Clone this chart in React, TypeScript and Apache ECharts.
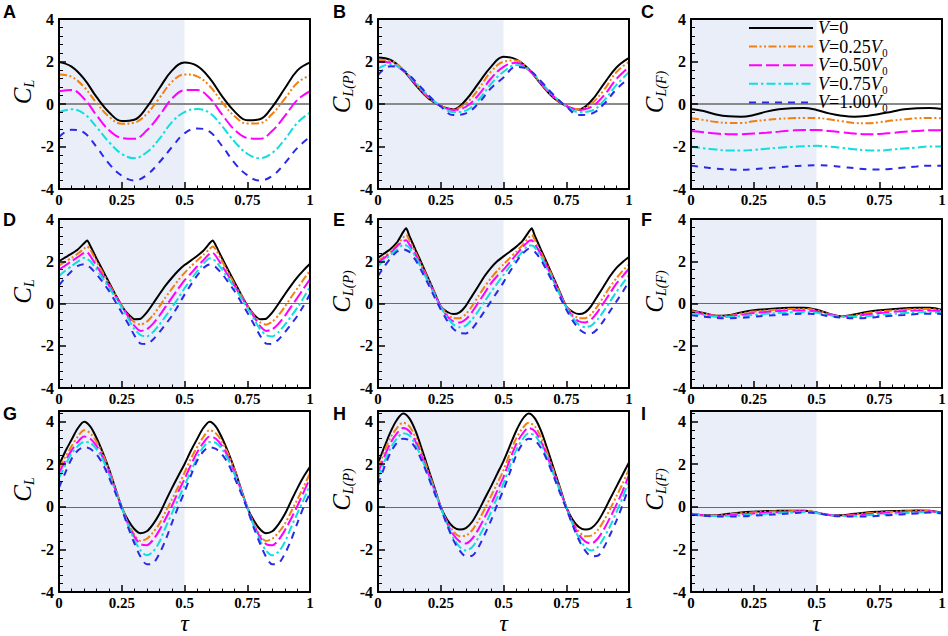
import React, { useEffect, useRef } from 'react';
import * as echarts from 'echarts';

// ---------- x grids (tau) ----------
const TAU_05 = [0, 0.05, 0.1, 0.15, 0.2, 0.25, 0.3, 0.35, 0.4, 0.45, 0.5, 0.55, 0.6, 0.65, 0.7, 0.75, 0.8, 0.85, 0.9, 0.95, 1];
const TAU_025 = [0, 0.025, 0.05, 0.075, 0.1, 0.125, 0.15, 0.175, 0.2, 0.225, 0.25, 0.275, 0.3, 0.325, 0.35, 0.375, 0.4, 0.425, 0.45, 0.475, 0.5,
  0.525, 0.55, 0.575, 0.6, 0.625, 0.65, 0.675, 0.7, 0.725, 0.75, 0.775, 0.8, 0.825, 0.85, 0.875, 0.9, 0.925, 0.95, 0.975, 1];
const TAU_DE = [0, 0.025, 0.05, 0.075, 0.1, 0.1125, 0.125, 0.15, 0.175, 0.2, 0.225, 0.25, 0.275, 0.3, 0.325, 0.35, 0.375, 0.4, 0.425, 0.45, 0.475, 0.5,
  0.525, 0.55, 0.575, 0.6, 0.6125, 0.625, 0.65, 0.675, 0.7, 0.725, 0.75, 0.775, 0.8, 0.825, 0.85, 0.875, 0.9, 0.925, 0.95, 0.975, 1];

// ---------- series names ----------
const NAMES = ['V=0', 'V=0.25V0', 'V=0.50V0', 'V=0.75V0', 'V=1.00V0'];
const Y_TICKS = [-4, -2, 0, 2, 4];
const X_TICKS = [0, 0.25, 0.5, 0.75, 1];

// ---------- panel A (C_L) ----------
const A_0 = [1.97, 1.76, 1.18, 0.32, -0.40, -0.80, -0.74, -0.15, 0.74, 1.57, 1.95, 1.79, 1.22, 0.36, -0.36, -0.77, -0.72, -0.13, 0.74, 1.58, 1.96];
const A_25 = [1.39, 1.28, 0.80, 0.04, -0.60, -0.93, -0.88, -0.46, 0.28, 1.04, 1.39, 1.30, 0.85, 0.08, -0.58, -0.92, -0.90, -0.46, 0.25, 1.00, 1.35];
const A_50 = [0.60, 0.66, 0.25, -0.54, -1.24, -1.60, -1.64, -1.24, -0.54, 0.25, 0.65, 0.66, 0.28, -0.50, -1.22, -1.60, -1.64, -1.26, -0.56, 0.20, 0.60];
const A_75 = [-0.38, -0.25, -0.46, -1.09, -1.80, -2.35, -2.55, -2.27, -1.64, -0.85, -0.38, -0.24, -0.42, -1.05, -1.78, -2.34, -2.55, -2.30, -1.66, -0.88, -0.40];
const A_100 = [-1.55, -1.21, -1.35, -2.03, -2.82, -3.37, -3.60, -3.34, -2.74, -2.03, -1.38, -1.15, -1.30, -1.98, -2.78, -3.35, -3.60, -3.38, -2.78, -2.06, -1.55];

// ---------- panel B (C_L(P)) ----------
const B_0 = [2.19, 2.07, 1.60, 0.89, 0.27, -0.09, -0.25, 0.19, 0.97, 1.75, 2.22, 2.10, 1.65, 0.92, 0.28, -0.10, -0.26, 0.15, 0.95, 1.72, 2.17];
const B_25 = [2.07, 2.03, 1.60, 0.94, 0.31, -0.09, -0.25, 0.03, 0.69, 1.52, 1.99, 2.05, 1.62, 0.95, 0.32, -0.08, -0.25, 0.02, 0.66, 1.50, 1.98];
const B_50 = [1.99, 1.94, 1.56, 0.94, 0.34, -0.09, -0.28, -0.13, 0.42, 1.20, 1.75, 1.94, 1.60, 0.96, 0.35, -0.08, -0.28, -0.14, 0.40, 1.18, 1.75];
const B_75 = [1.67, 1.88, 1.60, 1.00, 0.38, -0.09, -0.38, -0.31, 0.19, 0.94, 1.52, 1.83, 1.62, 1.02, 0.38, -0.10, -0.38, -0.32, 0.16, 0.90, 1.50];
const B_100 = [1.36, 1.78, 1.60, 1.05, 0.42, -0.12, -0.52, -0.44, 0.03, 0.74, 1.25, 1.75, 1.62, 1.06, 0.42, -0.12, -0.52, -0.46, 0.00, 0.70, 1.22];

// ---------- panel C (C_L(F)) ----------
const C_0 = [-0.23, -0.33, -0.49, -0.58, -0.60, -0.52, -0.36, -0.25, -0.20, -0.19, -0.28, -0.44, -0.55, -0.60, -0.56, -0.47, -0.36, -0.25, -0.20, -0.19, -0.23];
const C_25 = [-0.67, -0.75, -0.85, -0.89, -0.89, -0.81, -0.75, -0.70, -0.67, -0.66, -0.66, -0.72, -0.81, -0.89, -0.91, -0.86, -0.78, -0.72, -0.67, -0.66, -0.67];
const C_50 = [-1.27, -1.33, -1.39, -1.42, -1.42, -1.39, -1.35, -1.30, -1.25, -1.22, -1.22, -1.27, -1.33, -1.39, -1.42, -1.41, -1.36, -1.31, -1.27, -1.24, -1.24];
const C_75 = [-2.00, -2.08, -2.14, -2.19, -2.19, -2.16, -2.11, -2.06, -2.02, -1.99, -1.97, -2.00, -2.06, -2.13, -2.18, -2.19, -2.14, -2.09, -2.05, -2.00, -2.00];
const C_100 = [-2.90, -2.97, -3.04, -3.08, -3.10, -3.07, -3.02, -2.97, -2.93, -2.90, -2.88, -2.90, -2.96, -3.02, -3.07, -3.08, -3.05, -2.99, -2.94, -2.90, -2.90];

// ---------- panel D (C_L) ----------
const D_0 = [2.00, 2.18, 2.36, 2.56, 2.85, 2.98, 2.72, 2.12, 1.55, 0.98, 0.42, -0.12, -0.50, -0.74, -0.72, -0.42, 0.00, 0.44, 0.86, 1.22, 1.55, 1.82,
  2.03, 2.25, 2.50, 2.85, 2.98, 2.74, 2.14, 1.56, 1.00, 0.44, -0.10, -0.50, -0.74, -0.72, -0.42, 0.00, 0.44, 0.86, 1.25, 1.58, 1.88];
const D_25 = [1.80, 1.98, 2.16, 2.36, 2.60, 2.70, 2.55, 1.98, 1.45, 0.90, 0.40, -0.10, -0.55, -0.88, -1.00, -0.86, -0.55, -0.15, 0.30, 0.70, 1.10, 1.45,
  1.75, 2.03, 2.30, 2.58, 2.70, 2.55, 2.00, 1.45, 0.90, 0.40, -0.10, -0.55, -0.88, -1.00, -0.86, -0.55, -0.15, 0.30, 0.72, 1.15, 1.55];
const D_50 = [1.60, 1.80, 2.00, 2.20, 2.40, 2.42, 2.25, 1.77, 1.30, 0.83, 0.35, -0.12, -0.60, -1.05, -1.30, -1.22, -0.95, -0.58, -0.15, 0.28, 0.70, 1.10,
  1.42, 1.75, 2.05, 2.36, 2.40, 2.25, 1.78, 1.30, 0.83, 0.35, -0.12, -0.60, -1.05, -1.30, -1.22, -0.95, -0.58, -0.15, 0.28, 0.72, 1.15];
const D_75 = [1.30, 1.55, 1.77, 1.98, 2.16, 2.10, 2.00, 1.61, 1.18, 0.75, 0.28, -0.19, -0.70, -1.20, -1.50, -1.56, -1.35, -1.00, -0.60, -0.19, 0.25, 0.72,
  1.12, 1.52, 1.88, 2.14, 2.10, 2.00, 1.60, 1.18, 0.75, 0.28, -0.19, -0.70, -1.20, -1.50, -1.56, -1.35, -1.00, -0.60, -0.19, 0.28, 0.80];
const D_100 = [0.86, 1.22, 1.53, 1.78, 1.86, 1.80, 1.70, 1.38, 1.00, 0.58, 0.08, -0.42, -0.95, -1.50, -1.90, -1.92, -1.70, -1.36, -0.98, -0.58, -0.10, 0.42,
  0.88, 1.32, 1.68, 1.85, 1.80, 1.72, 1.40, 1.00, 0.58, 0.08, -0.42, -0.95, -1.50, -1.90, -1.92, -1.70, -1.36, -0.98, -0.58, -0.10, 0.45];

// ---------- panel E (C_L(P)) ----------
const E_0 = [2.16, 2.37, 2.58, 2.88, 3.38, 3.56, 3.20, 2.53, 1.87, 1.20, 0.53, -0.14, -0.39, -0.50, -0.42, -0.11, 0.36, 0.83, 1.30, 1.69, 2.00, 2.23,
  2.45, 2.68, 2.95, 3.38, 3.56, 3.20, 2.53, 1.87, 1.20, 0.53, -0.14, -0.39, -0.50, -0.42, -0.11, 0.36, 0.83, 1.30, 1.69, 1.97, 2.20];
const E_25 = [2.00, 2.22, 2.45, 2.75, 3.12, 3.25, 3.00, 2.40, 1.78, 1.15, 0.50, -0.12, -0.50, -0.70, -0.70, -0.50, -0.12, 0.35, 0.80, 1.20, 1.55, 1.85,
  2.15, 2.45, 2.75, 3.12, 3.25, 3.00, 2.40, 1.78, 1.15, 0.50, -0.12, -0.50, -0.70, -0.70, -0.50, -0.12, 0.35, 0.80, 1.20, 1.55, 1.85];
const E_50 = [1.92, 2.15, 2.40, 2.70, 2.95, 3.00, 2.80, 2.30, 1.70, 1.08, 0.45, -0.14, -0.60, -0.85, -0.90, -0.75, -0.40, 0.05, 0.50, 0.95, 1.30, 1.60,
  1.95, 2.30, 2.65, 2.95, 3.00, 2.80, 2.30, 1.70, 1.08, 0.45, -0.14, -0.60, -0.85, -0.90, -0.75, -0.40, 0.05, 0.50, 0.95, 1.30, 1.65];
const E_75 = [1.77, 2.05, 2.30, 2.55, 2.78, 2.75, 2.65, 2.20, 1.62, 1.02, 0.40, -0.18, -0.65, -1.00, -1.12, -1.05, -0.75, -0.35, 0.10, 0.55, 0.95, 1.35,
  1.75, 2.10, 2.45, 2.75, 2.75, 2.65, 2.20, 1.62, 1.02, 0.40, -0.18, -0.65, -1.00, -1.12, -1.05, -0.75, -0.35, 0.10, 0.55, 0.95, 1.35];
const E_100 = [1.30, 1.75, 2.15, 2.45, 2.58, 2.52, 2.45, 2.05, 1.50, 0.92, 0.30, -0.28, -0.80, -1.20, -1.40, -1.42, -1.20, -0.80, -0.35, 0.10, 0.55, 1.00,
  1.50, 1.95, 2.35, 2.58, 2.52, 2.45, 2.05, 1.50, 0.92, 0.30, -0.28, -0.80, -1.20, -1.40, -1.42, -1.20, -0.80, -0.35, 0.10, 0.55, 1.05];

// ---------- panel F (C_L(F)) ----------
const F_0 = [-0.32, -0.45, -0.58, -0.55, -0.42, -0.32, -0.27, -0.23, -0.20, -0.20, -0.30, -0.48, -0.60, -0.52, -0.40, -0.32, -0.27, -0.23, -0.20, -0.20, -0.30];
const F_25 = [-0.35, -0.47, -0.58, -0.57, -0.47, -0.38, -0.33, -0.29, -0.26, -0.26, -0.33, -0.50, -0.60, -0.56, -0.46, -0.38, -0.33, -0.29, -0.26, -0.26, -0.32];
const F_50 = [-0.40, -0.50, -0.60, -0.60, -0.53, -0.45, -0.40, -0.36, -0.33, -0.33, -0.38, -0.52, -0.60, -0.60, -0.52, -0.45, -0.40, -0.36, -0.33, -0.33, -0.38];
const F_75 = [-0.45, -0.55, -0.63, -0.64, -0.60, -0.54, -0.49, -0.45, -0.42, -0.41, -0.44, -0.55, -0.63, -0.64, -0.60, -0.54, -0.49, -0.45, -0.42, -0.41, -0.45];
const F_100 = [-0.55, -0.62, -0.68, -0.70, -0.68, -0.63, -0.58, -0.54, -0.50, -0.48, -0.50, -0.60, -0.67, -0.70, -0.68, -0.63, -0.58, -0.54, -0.50, -0.48, -0.50];

// ---------- panel G (C_L) ----------
const G_0 = [1.95, 2.60, 3.15, 3.69, 4.00, 3.77, 3.22, 2.53, 1.75, 0.85, -0.03, -0.62, -1.04, -1.24, -1.15, -0.81, -0.34, 0.28, 0.88, 1.45, 2.00,
  2.62, 3.18, 3.70, 4.00, 3.77, 3.22, 2.53, 1.75, 0.85, -0.03, -0.62, -1.04, -1.24, -1.15, -0.81, -0.34, 0.28, 0.88, 1.42, 1.88];
const G_25 = [1.83, 2.35, 2.84, 3.30, 3.60, 3.45, 3.05, 2.45, 1.72, 0.85, 0.00, -0.75, -1.30, -1.60, -1.50, -1.20, -0.80, -0.22, 0.35, 0.95, 1.60,
  2.25, 2.80, 3.28, 3.60, 3.45, 3.05, 2.45, 1.72, 0.85, 0.00, -0.75, -1.30, -1.60, -1.50, -1.20, -0.80, -0.22, 0.35, 0.95, 1.58];
const G_50 = [1.60, 2.15, 2.65, 3.05, 3.30, 3.20, 2.85, 2.30, 1.60, 0.80, -0.02, -0.80, -1.40, -1.75, -1.80, -1.55, -1.10, -0.55, 0.05, 0.70, 1.30,
  1.95, 2.55, 3.00, 3.30, 3.20, 2.85, 2.30, 1.60, 0.80, -0.02, -0.80, -1.40, -1.75, -1.80, -1.55, -1.10, -0.55, 0.05, 0.70, 1.35];
const G_75 = [1.36, 1.95, 2.50, 2.85, 3.05, 3.00, 2.70, 2.20, 1.50, 0.75, -0.03, -0.85, -1.55, -2.05, -2.28, -2.10, -1.65, -0.95, -0.30, 0.35, 1.00,
  1.65, 2.30, 2.80, 3.05, 3.00, 2.70, 2.20, 1.50, 0.75, -0.03, -0.85, -1.55, -2.05, -2.28, -2.10, -1.65, -0.95, -0.30, 0.35, 1.05];
const G_100 = [0.90, 1.60, 2.25, 2.65, 2.80, 2.72, 2.45, 2.00, 1.35, 0.65, -0.10, -0.95, -1.70, -2.35, -2.70, -2.65, -2.20, -1.55, -0.75, 0.00, 0.70,
  1.45, 2.15, 2.60, 2.80, 2.72, 2.45, 2.00, 1.35, 0.65, -0.10, -0.95, -1.70, -2.35, -2.70, -2.65, -2.20, -1.55, -0.75, 0.00, 0.65];

// ---------- panel H (C_L(P)) ----------
const H_0 = [2.05, 2.80, 3.52, 4.08, 4.38, 4.15, 3.55, 2.70, 1.80, 0.90, 0.00, -0.60, -0.95, -1.07, -1.00, -0.70, -0.20, 0.38, 0.95, 1.55, 2.15,
  2.85, 3.55, 4.10, 4.38, 4.15, 3.55, 2.70, 1.80, 0.90, 0.00, -0.60, -0.95, -1.07, -1.00, -0.70, -0.20, 0.38, 0.95, 1.52, 2.08];
const H_25 = [1.81, 2.60, 3.25, 3.70, 3.95, 3.78, 3.25, 2.50, 1.68, 0.85, 0.00, -0.70, -1.15, -1.38, -1.35, -1.10, -0.65, -0.10, 0.50, 1.10, 1.72,
  2.50, 3.20, 3.68, 3.95, 3.78, 3.25, 2.50, 1.68, 0.85, 0.00, -0.70, -1.15, -1.38, -1.35, -1.10, -0.65, -0.10, 0.50, 1.10, 1.78];
const H_50 = [1.58, 2.35, 3.00, 3.45, 3.70, 3.55, 3.05, 2.35, 1.58, 0.80, -0.02, -0.75, -1.30, -1.62, -1.72, -1.50, -1.05, -0.50, 0.10, 0.75, 1.40,
  2.20, 2.92, 3.42, 3.70, 3.55, 3.05, 2.35, 1.58, 0.80, -0.02, -0.75, -1.30, -1.62, -1.72, -1.50, -1.05, -0.50, 0.10, 0.75, 1.50];
const H_75 = [1.34, 2.10, 2.75, 3.20, 3.45, 3.35, 2.90, 2.25, 1.50, 0.75, -0.03, -0.80, -1.45, -1.88, -2.05, -1.90, -1.45, -0.90, -0.25, 0.45, 1.10,
  1.90, 2.65, 3.15, 3.45, 3.35, 2.90, 2.25, 1.50, 0.75, -0.03, -0.80, -1.45, -1.88, -2.05, -1.90, -1.45, -0.90, -0.25, 0.45, 1.25];
const H_100 = [1.03, 1.85, 2.55, 3.00, 3.20, 3.12, 2.75, 2.15, 1.42, 0.65, -0.08, -0.85, -1.55, -2.05, -2.32, -2.30, -1.90, -1.30, -0.65, 0.10, 0.80,
  1.60, 2.40, 2.95, 3.20, 3.12, 2.75, 2.15, 1.42, 0.65, -0.08, -0.85, -1.55, -2.05, -2.32, -2.30, -1.90, -1.30, -0.65, 0.10, 0.95];

// ---------- panel I (C_L(F)) ----------
const I_0 = [-0.33, -0.40, -0.40, -0.33, -0.27, -0.23, -0.20, -0.19, -0.18, -0.18, -0.27, -0.38, -0.40, -0.33, -0.27, -0.23, -0.20, -0.19, -0.17, -0.18, -0.28];
const I_25 = [-0.33, -0.40, -0.41, -0.36, -0.30, -0.26, -0.23, -0.21, -0.20, -0.19, -0.27, -0.38, -0.41, -0.36, -0.30, -0.26, -0.23, -0.21, -0.20, -0.19, -0.28];
const I_50 = [-0.33, -0.40, -0.42, -0.40, -0.35, -0.31, -0.28, -0.25, -0.23, -0.21, -0.28, -0.38, -0.42, -0.40, -0.35, -0.31, -0.28, -0.25, -0.23, -0.21, -0.29];
const I_75 = [-0.34, -0.41, -0.43, -0.43, -0.40, -0.36, -0.33, -0.30, -0.27, -0.24, -0.29, -0.39, -0.43, -0.43, -0.40, -0.36, -0.33, -0.30, -0.27, -0.24, -0.30];
const I_100 = [-0.35, -0.42, -0.45, -0.46, -0.45, -0.42, -0.38, -0.35, -0.31, -0.27, -0.30, -0.40, -0.45, -0.46, -0.45, -0.42, -0.38, -0.35, -0.31, -0.27, -0.30];

// ---------- styling & layout ----------
const SERIF = "'Liberation Serif', 'Times New Roman', serif";
const SANS = "'Liberation Sans', Arial, sans-serif";
const COLORS = ['#000000', '#f08010', '#ff00ff', '#10dede', '#2a2ae6'];
const DASHES: any[] = ['solid', [8, 2.5, 2, 2.5, 2, 2.5], [13, 4], [9, 3, 2.5, 3], [7, 6]];
const COL_LEFT = [59, 378, 691];
const COL_WIDTH = 251;
const ROW_TOP = [19, 219, 411];
const ROW_HEIGHT = [170, 169, 181];
const ROW_YMAX = [4, 4, 4.5];
const LETTER_LEFT = [3, 333, 641];
const LETTER_TOP = [3, 211, 405];

const PANELS = [
  { letter: 'A', sub: 'L', tau: TAU_05, ys: [A_0, A_25, A_50, A_75, A_100], row: 0, col: 0, smooth: 0.4 },
  { letter: 'B', sub: 'L(P)', tau: TAU_05, ys: [B_0, B_25, B_50, B_75, B_100], row: 0, col: 1, smooth: 0.4 },
  { letter: 'C', sub: 'L(F)', tau: TAU_05, ys: [C_0, C_25, C_50, C_75, C_100], row: 0, col: 2, smooth: 0.4 },
  { letter: 'D', sub: 'L', tau: TAU_DE, ys: [D_0, D_25, D_50, D_75, D_100], row: 1, col: 0, smooth: 0.2 },
  { letter: 'E', sub: 'L(P)', tau: TAU_DE, ys: [E_0, E_25, E_50, E_75, E_100], row: 1, col: 1, smooth: 0.2 },
  { letter: 'F', sub: 'L(F)', tau: TAU_05, ys: [F_0, F_25, F_50, F_75, F_100], row: 1, col: 2, smooth: 0.4 },
  { letter: 'G', sub: 'L', tau: TAU_025, ys: [G_0, G_25, G_50, G_75, G_100], row: 2, col: 0, smooth: 0.3 },
  { letter: 'H', sub: 'L(P)', tau: TAU_025, ys: [H_0, H_25, H_50, H_75, H_100], row: 2, col: 1, smooth: 0.3 },
  { letter: 'I', sub: 'L(F)', tau: TAU_05, ys: [I_0, I_25, I_50, I_75, I_100], row: 2, col: 2, smooth: 0.4 },
];

function buildOption() {
  const grids: any[] = [];
  const xAxes: any[] = [];
  const yAxes: any[] = [];
  const series: any[] = [];
  const titles: any[] = [];
  const labelStyle = { color: '#000', fontFamily: SERIF, fontWeight: 'bold' };

  PANELS.forEach((p, i) => {
    grids.push({
      left: COL_LEFT[p.col], top: ROW_TOP[p.row], width: COL_WIDTH, height: ROW_HEIGHT[p.row],
      containLabel: false, outerBoundsMode: 'none',
    });
    titles.push({
      text: p.letter, left: LETTER_LEFT[p.col], top: LETTER_TOP[p.row], padding: 0,
      textStyle: { fontFamily: SANS, fontWeight: 'bold', fontSize: 18, color: '#000' },
    });
    const ymax = ROW_YMAX[p.row];
    // bottom x axis
    xAxes.push({
      type: 'value', gridIndex: i, min: X_TICKS[0], max: X_TICKS[X_TICKS.length - 1], interval: 0.25, position: 'bottom', z: 5,
      axisLine: { show: true, onZero: false, lineStyle: { color: '#000', width: 2 } },
      axisTick: { show: true, inside: true, length: 7, lineStyle: { color: '#000', width: 1.5 } },
      minorTick: { show: true, splitNumber: 5, length: 3.5, lineStyle: { color: '#000', width: 1 } },
      splitLine: { show: false }, minorSplitLine: { show: false },
      axisLabel: { ...labelStyle, fontSize: 15, margin: 3, formatter: (v: number) => String(v) },
      name: p.row === 2 ? 'τ' : '', nameLocation: 'middle', nameGap: 20, nameMoveOverlap: false,
      nameTextStyle: { fontFamily: SERIF, fontStyle: 'italic', fontSize: 24, color: '#000', lineHeight: 22 },
    });
    // top frame axis
    xAxes.push({
      type: 'value', gridIndex: i, min: 0, max: 1, position: 'top', z: 5,
      axisLine: { show: true, onZero: false, lineStyle: { color: '#000', width: 2 } },
      axisTick: { show: false }, axisLabel: { show: false }, splitLine: { show: false },
    });
    // left y axis
    yAxes.push({
      type: 'value', gridIndex: i, min: Y_TICKS[0], max: ymax, interval: 2, position: 'left', z: 5,
      axisLine: { show: true, onZero: false, lineStyle: { color: '#000', width: 2 } },
      axisTick: { show: true, inside: true, length: 7, lineStyle: { color: '#000', width: 1.5 } },
      minorTick: { show: true, splitNumber: 5, length: 4, lineStyle: { color: '#000', width: 1 } },
      splitLine: { show: false }, minorSplitLine: { show: false },
      axisLabel: { ...labelStyle, fontSize: 16, margin: 5, formatter: (v: number) => (Y_TICKS.indexOf(v) >= 0 ? String(v) : '') },
      name: `{c|C}{s|${p.sub}}`, nameLocation: 'middle', nameRotate: 90, nameGap: 24,
      nameTextStyle: {
        color: '#000', padding: [0, 0, 0, 24],
        rich: {
          c: { fontFamily: SERIF, fontStyle: 'italic', fontSize: 25, color: '#000', lineHeight: 26 },
          s: { fontFamily: SERIF, fontStyle: 'italic', fontSize: 14, color: '#000', lineHeight: 26, padding: [14, 0, 0, 0] },
        },
      },
    });
    // right frame axis
    yAxes.push({
      type: 'value', gridIndex: i, min: Y_TICKS[0], max: ymax, position: 'right', z: 5,
      axisLine: { show: true, onZero: false, lineStyle: { color: '#000', width: 2 } },
      axisTick: { show: false }, axisLabel: { show: false }, splitLine: { show: false },
    });

    // helper series: shaded half and zero line
    series.push({
      type: 'line', xAxisIndex: 2 * i, yAxisIndex: 2 * i, data: [[0, 0]], symbol: 'none', silent: true,
      lineStyle: { opacity: 0 }, z: 1,
      markArea: { silent: true, z: 0, itemStyle: { color: '#e9eef8' }, data: [[{ xAxis: 0 }, { xAxis: 0.5 }]] },
      markLine: {
        silent: true, z: 1, symbol: 'none', label: { show: false },
        lineStyle: { color: p.row === 0 ? '#8a8a8a' : '#6a6a6a', width: p.row === 0 ? 2 : 1.2, type: 'solid' },
        data: [{ yAxis: 0 }],
      },
    });

    p.ys.forEach((vals, k) => {
      series.push({
        type: 'line', name: NAMES[k], xAxisIndex: 2 * i, yAxisIndex: 2 * i,
        data: p.tau.map((t, j) => [t, vals[j]]),
        symbol: 'none', showSymbol: false, smooth: p.smooth, clip: false, z: 2,
        lineStyle: { color: COLORS[k], width: 2, type: DASHES[k] },
        itemStyle: { color: COLORS[k] },
      });
    });
  });

  const legendRich = {
    v: { fontFamily: SERIF, fontStyle: 'italic', fontSize: 18, color: '#000', lineHeight: 16 },
    t: { fontFamily: SERIF, fontSize: 18, color: '#000', lineHeight: 16 },
  };

  return {
    animation: false,
    backgroundColor: '#ffffff',
    title: titles,
    legend: {
      orient: 'vertical', left: 748, top: 19, padding: 0, itemWidth: 64, itemHeight: 14, itemGap: 0.6,
      selectedMode: false, data: NAMES,
      itemStyle: { opacity: 0, borderWidth: 0 },
      formatter: (name: string) => (name === 'V=0' ? '{v|V}{t|=0}' : `{v|V}{t|=${name.slice(2, -2)}}{v|V}{t|\u2080}`),
      textStyle: { rich: legendRich },
    },
    grid: grids,
    xAxis: xAxes,
    yAxis: yAxes,
    series,
  };
}

export default function App() {
  const ref = useRef<HTMLDivElement>(null);
  useEffect(() => {
    if (!ref.current) return;
    const chart = echarts.init(ref.current, null, { renderer: 'svg' });
    chart.setOption(buildOption() as any);
    return () => chart.dispose();
  }, []);
  return (
    <div
      ref={ref}
      style={{ position: 'fixed', left: 0, top: 0, width: 948, height: 636, background: '#fff' }}
    />
  );
}
